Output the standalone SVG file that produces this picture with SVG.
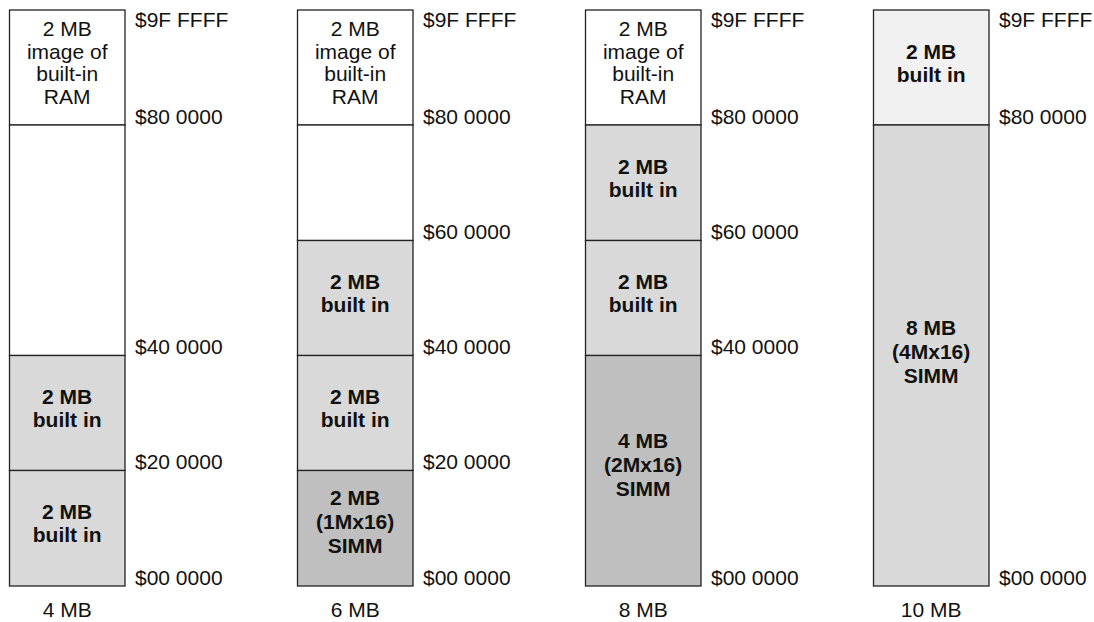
<svg xmlns="http://www.w3.org/2000/svg" width="1094" height="622" viewBox="0 0 1094 622">
<style>
  .cell { stroke: #222; stroke-width: 1.3; }
  .white { fill: #ffffff; }
  .lt { fill: #d9d9d9; }
  .dk { fill: #bfbfbf; }
  .vl { fill: #f1f1f1; }
  text { font-family: "Liberation Sans", Arial, Helvetica, sans-serif; font-size: 21px; fill: #111; }
  .c { text-anchor: middle; }
  .b { font-weight: bold; }
</style>
<rect width="1094" height="622" fill="#ffffff"/>

<!-- Column 1: 4 MB -->
<g id="col1">
  <g id="c1-image">
    <rect class="cell white" x="9.5" y="10" width="115.5" height="115"/>
    <text class="c" x="67.2" y="36">2 MB</text>
    <text class="c" x="67.2" y="58.7">image of</text>
    <text class="c" x="67.2" y="81.4">built-in</text>
    <text class="c" x="67.2" y="104">RAM</text>
  </g>
  <g id="c1-empty">
    <rect class="cell white" x="9.5" y="125" width="115.5" height="230.5"/>
  </g>
  <g id="c1-b2">
    <rect class="cell lt" x="9.5" y="355.5" width="115.5" height="115"/>
    <text class="c b" x="67.2" y="404">2 MB</text>
    <text class="c b" x="67.2" y="427">built in</text>
  </g>
  <g id="c1-b1">
    <rect class="cell lt" x="9.5" y="470.5" width="115.5" height="115.5"/>
    <text class="c b" x="67.2" y="519">2 MB</text>
    <text class="c b" x="67.2" y="542">built in</text>
  </g>
  <g id="c1-addr">
    <text x="135" y="27">$9F FFFF</text>
    <text x="135" y="123.5">$80 0000</text>
    <text x="135" y="354">$40 0000</text>
    <text x="135" y="469">$20 0000</text>
    <text x="135" y="584.5">$00 0000</text>
  </g>
  <text class="c" x="67.2" y="617">4 MB</text>
</g>

<!-- Column 2: 6 MB -->
<g id="col2">
  <g id="c2-image">
    <rect class="cell white" x="297.5" y="10" width="115.5" height="115"/>
    <text class="c" x="355.2" y="36">2 MB</text>
    <text class="c" x="355.2" y="58.7">image of</text>
    <text class="c" x="355.2" y="81.4">built-in</text>
    <text class="c" x="355.2" y="104">RAM</text>
  </g>
  <g id="c2-empty">
    <rect class="cell white" x="297.5" y="125" width="115.5" height="115.5"/>
  </g>
  <g id="c2-b2">
    <rect class="cell lt" x="297.5" y="240.5" width="115.5" height="115"/>
    <text class="c b" x="355.2" y="289">2 MB</text>
    <text class="c b" x="355.2" y="312">built in</text>
  </g>
  <g id="c2-b1">
    <rect class="cell lt" x="297.5" y="355.5" width="115.5" height="115"/>
    <text class="c b" x="355.2" y="404">2 MB</text>
    <text class="c b" x="355.2" y="427">built in</text>
  </g>
  <g id="c2-simm">
    <rect class="cell dk" x="297.5" y="470.5" width="115.5" height="115.5"/>
    <text class="c b" x="355.2" y="505">2 MB</text>
    <text class="c b" x="355.2" y="529">(1Mx16)</text>
    <text class="c b" x="355.2" y="553">SIMM</text>
  </g>
  <g id="c2-addr">
    <text x="423" y="27">$9F FFFF</text>
    <text x="423" y="123.5">$80 0000</text>
    <text x="423" y="239">$60 0000</text>
    <text x="423" y="354">$40 0000</text>
    <text x="423" y="469">$20 0000</text>
    <text x="423" y="584.5">$00 0000</text>
  </g>
  <text class="c" x="355.2" y="617">6 MB</text>
</g>

<!-- Column 3: 8 MB -->
<g id="col3">
  <g id="c3-image">
    <rect class="cell white" x="585.5" y="10" width="115.5" height="115"/>
    <text class="c" x="643.2" y="36">2 MB</text>
    <text class="c" x="643.2" y="58.7">image of</text>
    <text class="c" x="643.2" y="81.4">built-in</text>
    <text class="c" x="643.2" y="104">RAM</text>
  </g>
  <g id="c3-b2">
    <rect class="cell lt" x="585.5" y="125" width="115.5" height="115.5"/>
    <text class="c b" x="643.2" y="173.5">2 MB</text>
    <text class="c b" x="643.2" y="196.5">built in</text>
  </g>
  <g id="c3-b1">
    <rect class="cell lt" x="585.5" y="240.5" width="115.5" height="115"/>
    <text class="c b" x="643.2" y="289">2 MB</text>
    <text class="c b" x="643.2" y="312">built in</text>
  </g>
  <g id="c3-simm">
    <rect class="cell dk" x="585.5" y="355.5" width="115.5" height="230.5"/>
    <text class="c b" x="643.2" y="447.5">4 MB</text>
    <text class="c b" x="643.2" y="471.5">(2Mx16)</text>
    <text class="c b" x="643.2" y="495.5">SIMM</text>
  </g>
  <g id="c3-addr">
    <text x="711" y="27">$9F FFFF</text>
    <text x="711" y="123.5">$80 0000</text>
    <text x="711" y="239">$60 0000</text>
    <text x="711" y="354">$40 0000</text>
    <text x="711" y="584.5">$00 0000</text>
  </g>
  <text class="c" x="643.2" y="617">8 MB</text>
</g>

<!-- Column 4: 10 MB -->
<g id="col4">
  <g id="c4-b">
    <rect class="cell vl" x="873.5" y="10" width="115.5" height="115"/>
    <text class="c b" x="931.2" y="58.5">2 MB</text>
    <text class="c b" x="931.2" y="81.5">built in</text>
  </g>
  <g id="c4-simm">
    <rect class="cell lt" x="873.5" y="125" width="115.5" height="461"/>
    <text class="c b" x="931.2" y="334.5">8 MB</text>
    <text class="c b" x="931.2" y="358.5">(4Mx16)</text>
    <text class="c b" x="931.2" y="382.5">SIMM</text>
  </g>
  <g id="c4-addr">
    <text x="999" y="27">$9F FFFF</text>
    <text x="999" y="123.5">$80 0000</text>
    <text x="999" y="584.5">$00 0000</text>
  </g>
  <text class="c" x="931.2" y="617">10 MB</text>
</g>

<g id="connectors"></g>
</svg>
